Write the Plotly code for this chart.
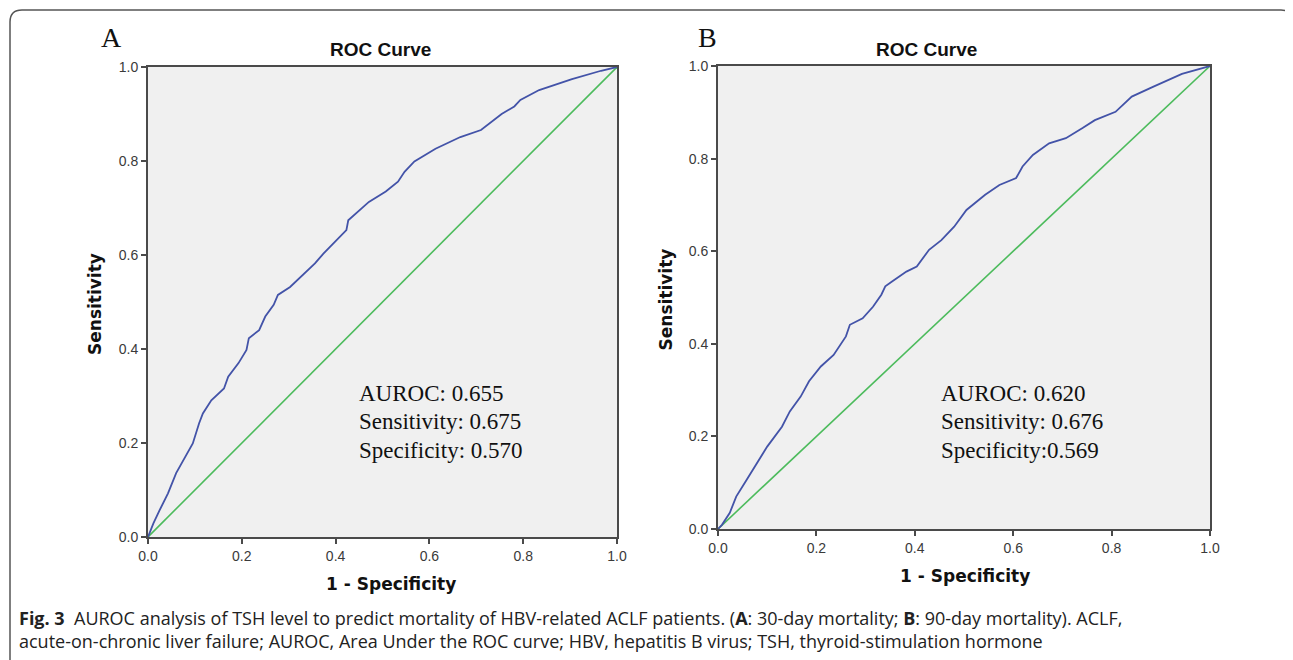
import plotly.graph_objects as go

W, H = 1293, 660
OFF = 8  # page body margin that shifts the figure on screen

# ---- data ----
a_fpr = [0, 0.0115, 0.0248, 0.0426, 0.060, 0.0778, 0.0955, 0.109, 0.117, 0.135, 0.162, 0.171,
         0.193, 0.210, 0.215, 0.237, 0.250, 0.268, 0.277, 0.303, 0.334, 0.356, 0.374, 0.396,
         0.423, 0.427, 0.453, 0.471, 0.507, 0.533, 0.547, 0.568, 0.613, 0.666, 0.710, 0.754,
         0.781, 0.794, 0.834, 0.904, 0.966, 1.0]
a_tpr = [0, 0.029, 0.057, 0.093, 0.136, 0.167, 0.199, 0.242, 0.263, 0.291, 0.316, 0.341,
         0.370, 0.398, 0.423, 0.440, 0.469, 0.494, 0.515, 0.532, 0.561, 0.582, 0.603, 0.625,
         0.653, 0.674, 0.696, 0.713, 0.735, 0.756, 0.777, 0.799, 0.826, 0.851, 0.866, 0.900,
         0.916, 0.930, 0.951, 0.974, 0.992, 1.0]

b_fpr = [0, 0.008, 0.024, 0.037, 0.058, 0.079, 0.100, 0.130, 0.146, 0.168, 0.185, 0.209,
         0.235, 0.260, 0.264, 0.268, 0.294, 0.315, 0.332, 0.340, 0.353, 0.383, 0.404, 0.429,
         0.454, 0.480, 0.505, 0.543, 0.572, 0.606, 0.619, 0.640, 0.673, 0.707, 0.741, 0.766,
         0.808, 0.841, 0.884, 0.943, 1.0]
b_tpr = [0, 0.009, 0.035, 0.070, 0.106, 0.142, 0.178, 0.221, 0.254, 0.286, 0.319, 0.351,
         0.376, 0.416, 0.430, 0.441, 0.455, 0.480, 0.506, 0.524, 0.534, 0.556, 0.567, 0.603,
         0.624, 0.653, 0.689, 0.722, 0.743, 0.758, 0.783, 0.808, 0.833, 0.844, 0.866, 0.883,
         0.901, 0.934, 0.955, 0.983, 1.0]

ref_line = [0, 1]
tick_vals = [0, 0.2, 0.4, 0.6, 0.8, 1.0]
tick_text = ["0.0", "0.2", "0.4", "0.6", "0.8", "1.0"]

panel_letters = ["A", "B"]
panel_title = "ROC Curve"
x_title = "1 - Specificity"
y_title = "Sensitivity"
stats_a = ["AUROC: 0.655", "Sensitivity: 0.675", "Specificity: 0.570"]
stats_b = ["AUROC: 0.620", "Sensitivity: 0.676", "Specificity:0.569"]
caption_1 = ("<b>Fig. 3</b>  AUROC analysis of TSH level to predict mortality of HBV-related ACLF "
             "patients. (<b>A</b>: 30-day mortality; <b>B</b>: 90-day mortality). ACLF,")
caption_2 = ("acute-on-chronic liver failure; AUROC, Area Under the ROC curve; HBV, hepatitis B virus; "
             "TSH, thyroid-stimulation hormone")

BLUE = "#4353a8"
GREEN = "#4cbb5c"
AXC = "#4a4a4a"


def px(x):
    return (x - OFF) / W


def py(y):
    return 1 - (y - OFF) / H


fig = go.Figure()
fig.add_trace(go.Scatter(x=ref_line, y=ref_line, mode="lines", line=dict(color=GREEN, width=1.6),
                         xaxis="x", yaxis="y", hoverinfo="skip"))
fig.add_trace(go.Scatter(x=a_fpr, y=a_tpr, mode="lines", line=dict(color=BLUE, width=1.8),
                         xaxis="x", yaxis="y"))
fig.add_trace(go.Scatter(x=ref_line, y=ref_line, mode="lines", line=dict(color=GREEN, width=1.6),
                         xaxis="x2", yaxis="y2", hoverinfo="skip"))
fig.add_trace(go.Scatter(x=b_fpr, y=b_tpr, mode="lines", line=dict(color=BLUE, width=1.8),
                         xaxis="x2", yaxis="y2"))

# panel geometry (screen pixels)
pa = dict(l=148, r=617, t=67, b=537)
pb = dict(l=718, r=1210, t=66, b=529)

ax_common = dict(range=[0, 1], tickvals=tick_vals, ticktext=tick_text, ticks="outside",
                 ticklen=5, tickwidth=1.5, tickcolor=AXC, showline=True, mirror=True,
                 linecolor=AXC, linewidth=2, showgrid=False, zeroline=False,
                 tickfont=dict(family="Liberation Sans, Arial", size=14, color="#3a3a3a"),
                 fixedrange=True, automargin=False)

fig.update_layout(
    width=W, height=H, margin=dict(l=0, r=0, t=0, b=0, pad=0, autoexpand=False),
    paper_bgcolor="white", plot_bgcolor="#f0f0f0", showlegend=False,
    xaxis=dict(domain=[px(pa["l"]), px(pa["r"])], anchor="y", **ax_common),
    yaxis=dict(domain=[py(pa["b"]), py(pa["t"])], anchor="x", **ax_common),
    xaxis2=dict(domain=[px(pb["l"]), px(pb["r"])], anchor="y2", **ax_common),
    yaxis2=dict(domain=[py(pb["b"]), py(pb["t"])], anchor="x2", **ax_common),
)

ann = []


def add_text(x, y, text, size, family, anchor="center", angle=0, color="#111"):
    ann.append(dict(x=px(x), y=py(y), xref="paper", yref="paper", text=text, showarrow=False,
                    xanchor=anchor, yanchor="middle", textangle=angle,
                    font=dict(family=family, size=size, color=color)))


for p, letter, stats, ytx, sx in [(pa, panel_letters[0], stats_a, 95, 357),
                                  (pb, panel_letters[1], stats_b, 665, 939)]:
    cx = (p["l"] + p["r"]) / 2
    cy = (p["t"] + p["b"]) / 2
    add_text(p["l"] - 37 if letter == "A" else p["l"] - 11, 37, letter, 28,
             "Liberation Serif, Times New Roman")
    add_text(cx - 2 if letter == "A" else cx - 37, 49, "<b>" + panel_title + "</b>", 19,
             "Liberation Sans, Arial")
    add_text(cx + 8 if letter == "A" else cx + 1, p["b"] + 47, "<b>" + x_title + "</b>", 17,
             "DejaVu Sans")
    add_text(ytx, cy + 2, "<b>" + y_title + "</b>", 17, "DejaVu Sans", angle=-90)
    for i, s in enumerate(stats):
        add_text(sx, 393 + 28.5 * i, s, 23, "Liberation Serif, Times New Roman", anchor="left")

add_text(17, 618, caption_1, 18, "Open Sans", anchor="left", color="#222")
add_text(17, 641, caption_2, 18, "Open Sans", anchor="left", color="#222")
fig.update_layout(annotations=ann)

# rounded frame (bottom edge lies below the visible page)
path = (f"M {px(10)},{py(720)} L {px(10)},{py(22)} Q {px(10)},{py(10)} {px(22)},{py(10)} "
        f"L {px(1281)},{py(10)} Q {px(1292)},{py(10)} {px(1292)},{py(21)} L {px(1292)},{py(720)}")
fig.add_shape(type="path", path=path, xref="paper", yref="paper",
              line=dict(color="#555555", width=1.5), layer="above")

fig.write_html("out.html", config={"displayModeBar": False})
